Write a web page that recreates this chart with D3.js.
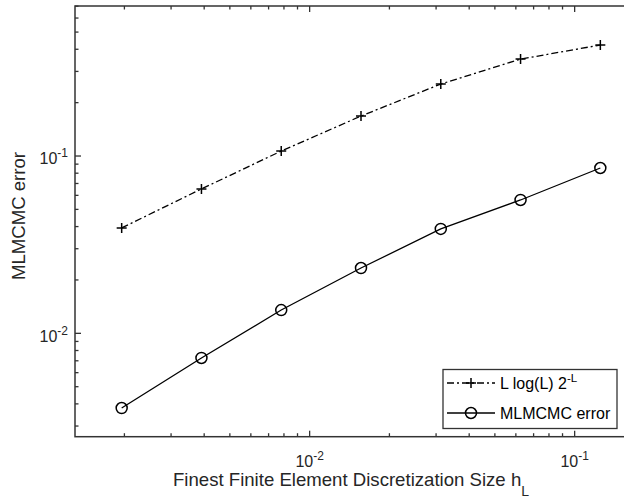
<!DOCTYPE html>
<html><head><meta charset="utf-8">
<script src="https://cdn.jsdelivr.net/npm/d3@7"></script>
<style>
html,body{margin:0;padding:0;background:#fff;}
svg{display:block;font-family:"Liberation Sans",Arial,sans-serif;}
</style></head>
<body>
<svg id="c" width="624" height="502"></svg>
<script>
// Data
const hValues = [0.001953125, 0.00390625, 0.0078125, 0.015625, 0.03125, 0.0625, 0.125];
const boundValues = [0.0393, 0.0652, 0.1067, 0.168, 0.2547, 0.352, 0.4226];
const errorValues = [0.00379, 0.00726, 0.01353, 0.02335, 0.0388, 0.0565, 0.0856];
const xTickLabels = [{v: 0.01, base: "10", exp: "-2"}, {v: 0.1, base: "10", exp: "-1"}];
const yTickLabels = [{v: 0.01, base: "10", exp: "-2"}, {v: 0.1, base: "10", exp: "-1"}];
const legendLabels = ["L log(L) 2", "MLMCMC error"];

(function(){
const svg = d3.select("#c");
const pL = 75, pR = 647, pT = 6, pB = 436.7;
const x = d3.scaleLog().domain([0.001302, 0.1875]).range([pL, pR]);
const y = d3.scaleLog().domain([0.002612, 0.7016]).range([pB, pT]);
const axisColor = "#333";

function logTicks(domain){
  const out = [];
  const lo = Math.floor(Math.log10(domain[0])), hi = Math.ceil(Math.log10(domain[1]));
  for (let e = lo; e <= hi; e++) for (let m = 1; m <= 9; m++) {
    const v = m * Math.pow(10, e);
    if (v >= domain[0] && v <= domain[1]) out.push({v, major: m === 1});
  }
  return out;
}
const g = svg.append("g");
const xt = logTicks(x.domain()), yt = logTicks(y.domain());
const majLen = 6, minLen = 3.5;
xt.forEach(t => {
  const L = t.major ? majLen : minLen, px = x(t.v);
  g.append("line").attr("x1", px).attr("x2", px).attr("y1", pB).attr("y2", pB - L);
  g.append("line").attr("x1", px).attr("x2", px).attr("y1", pT).attr("y2", pT + L);
});
yt.forEach(t => {
  const L = t.major ? majLen : minLen, py = y(t.v);
  g.append("line").attr("x1", pL).attr("x2", pL + L).attr("y1", py).attr("y2", py);
  g.append("line").attr("x1", pR).attr("x2", pR - L).attr("y1", py).attr("y2", py);
});
g.selectAll("line").attr("stroke", axisColor).attr("stroke-width", 1.3);
g.append("rect").attr("x", pL).attr("y", pT).attr("width", pR - pL).attr("height", pB - pT)
  .attr("fill", "none").attr("stroke", axisColor).attr("stroke-width", 1.5);

xTickLabels.forEach(t => {
  const tx = svg.append("text").attr("x", x(t.v)).attr("y", 467).attr("text-anchor", "middle")
    .attr("font-size", 16).attr("fill", "#262626");
  tx.append("tspan").text(t.base);
  tx.append("tspan").attr("dy", -7).attr("font-size", 12).text(t.exp);
});
yTickLabels.forEach(t => {
  const tx = svg.append("text").attr("x", 68).attr("y", y(t.v) + 8.3).attr("text-anchor", "end")
    .attr("font-size", 16).attr("fill", "#262626");
  tx.append("tspan").text(t.base);
  tx.append("tspan").attr("dy", -7).attr("font-size", 12).text(t.exp);
});

const xl = svg.append("text").attr("x", 351).attr("y", 485.5).attr("text-anchor", "middle")
  .attr("font-size", 18.6).attr("fill", "#262626");
xl.append("tspan").text("Finest Finite Element Discretization Size h");
xl.append("tspan").attr("dy", 10.5).attr("font-size", 14).text("L");
svg.append("text").attr("transform", "translate(24.5,216) rotate(-90)").attr("text-anchor", "middle")
  .attr("font-size", 18.6).attr("fill", "#262626").text("MLMCMC error");

const line = d3.line().x(d => x(d[0])).y(d => y(d[1]));
const boundData = hValues.map((h, i) => [h, boundValues[i]]);
const errData = hValues.map((h, i) => [h, errorValues[i]]);
svg.append("path").datum(boundData).attr("d", line).attr("fill", "none").attr("stroke", "#000")
  .attr("stroke-width", 1.3).attr("stroke-dasharray", "7,3,2,3");
svg.append("path").datum(errData).attr("d", line).attr("fill", "none").attr("stroke", "#000")
  .attr("stroke-width", 1.3);
function plus(sel, cx, cy){
  sel.append("path").attr("d", `M${cx-5},${cy}H${cx+5}M${cx},${cy-5}V${cy+5}`)
    .attr("stroke", "#000").attr("stroke-width", 1.5).attr("fill", "none");
}
boundData.forEach(d => plus(svg, x(d[0]), y(d[1])));
svg.selectAll("circle.m").data(errData).enter().append("circle").attr("class", "m")
  .attr("cx", d => x(d[0])).attr("cy", d => y(d[1])).attr("r", 5.5)
  .attr("fill", "none").attr("stroke", "#000").attr("stroke-width", 1.5);

const lg = svg.append("g");
lg.append("rect").attr("x", 443).attr("y", 369.5).attr("width", 174).attr("height", 59)
  .attr("fill", "#fff").attr("stroke", axisColor).attr("stroke-width", 1.3);
const r1 = 383, r2 = 413;
lg.append("line").attr("x1", 447).attr("x2", 495).attr("y1", r1).attr("y2", r1)
  .attr("stroke", "#000").attr("stroke-width", 1.3).attr("stroke-dasharray", "7,3,2,3");
plus(lg, 471, r1);
lg.append("line").attr("x1", 447).attr("x2", 495).attr("y1", r2).attr("y2", r2)
  .attr("stroke", "#000").attr("stroke-width", 1.3);
lg.append("circle").attr("cx", 471).attr("cy", r2).attr("r", 5.5).attr("fill", "none")
  .attr("stroke", "#000").attr("stroke-width", 1.5);
const t1 = lg.append("text").attr("x", 500).attr("y", r1 + 5.5).attr("font-size", 16).attr("fill", "#000");
t1.append("tspan").text(legendLabels[0]);
t1.append("tspan").attr("dy", -7).attr("font-size", 11.5).text("-L");
lg.append("text").attr("x", 500).attr("y", r2 + 5.5).attr("font-size", 16).attr("fill", "#000").text(legendLabels[1]);
})();
</script>
</body></html>
